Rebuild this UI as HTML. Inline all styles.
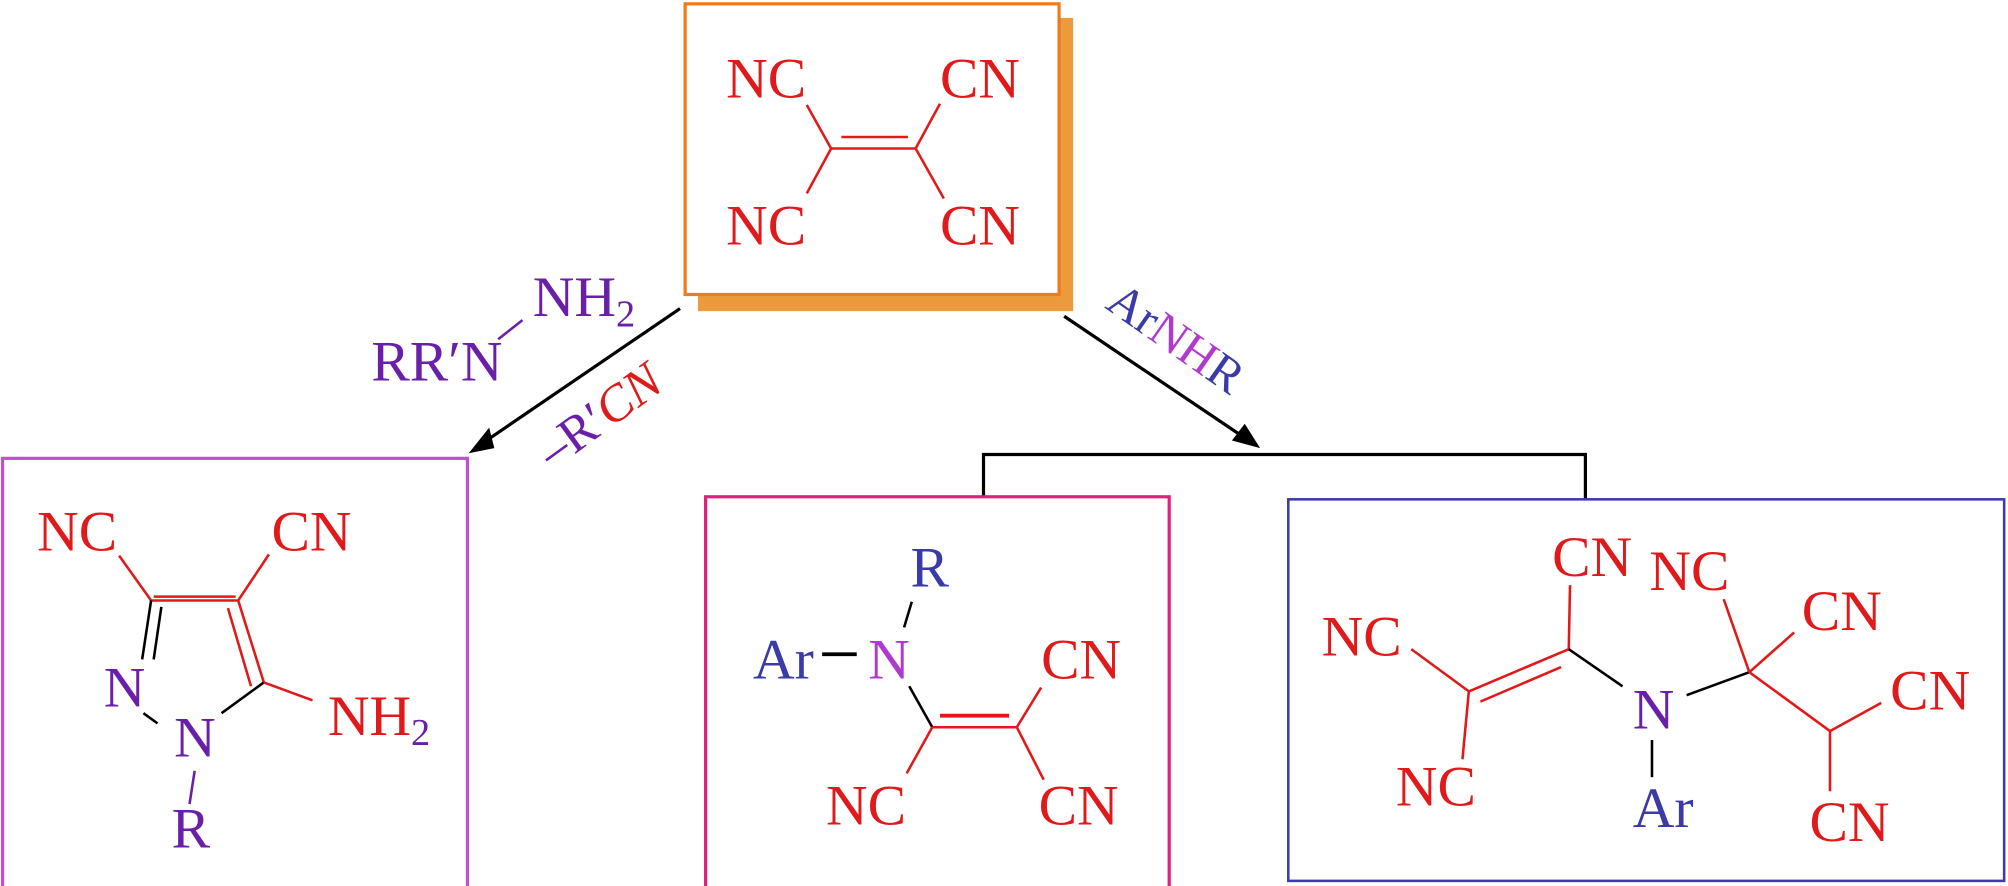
<!DOCTYPE html>
<html><head><meta charset="utf-8"><style>html,body{margin:0;padding:0;background:#fff}svg{display:block}</style></head>
<body>
<svg width="2008" height="886" viewBox="0 0 1568 692" preserveAspectRatio="none" xmlns="http://www.w3.org/2000/svg" font-family="'Liberation Serif', serif" font-size="45">
<rect width="1568" height="692" fill="#fff"/>
<!-- top box -->
<rect x="545" y="14" width="293" height="229" fill="#eb9a3c"/>
<rect x="535" y="3" width="292" height="227" fill="#fff" stroke="#f07a1a" stroke-width="2.5"/>
<g fill="#e01a1a">
<text x="567" y="76">NC</text><text x="734" y="76">CN</text>
<text x="567" y="191">NC</text><text x="734" y="191">CN</text>
</g>
<g stroke="#e01a1a" stroke-width="2" fill="none">
<line x1="649" y1="116" x2="715" y2="116"/><line x1="657" y1="107" x2="709" y2="107"/>
<line x1="649" y1="116" x2="630" y2="82"/><line x1="649" y1="116" x2="630" y2="151"/>
<line x1="715" y1="116" x2="734" y2="81"/><line x1="715" y1="116" x2="737" y2="155"/>
</g>
<!-- left reagent -->
<g fill="#6a1fa8">
<text x="416" y="247">NH<tspan font-size="30" dy="8">2</tspan></text>
<text x="290" y="297">RR′N</text>
</g>
<line x1="389" y1="265" x2="408" y2="250" stroke="#6a1fa8" stroke-width="2"/>
<!-- left arrow -->
<line x1="531" y1="241" x2="380" y2="344" stroke="#000" stroke-width="2.5"/>
<polygon points="366,354 382,334 386,350" fill="#000"/>
<text transform="translate(432,367) rotate(-36)" font-size="40"><tspan fill="#6a1fa8">–R′</tspan><tspan fill="#e01a1a" font-style="italic">CN</tspan></text>
<!-- right arrow -->
<line x1="831" y1="247" x2="972" y2="342" stroke="#000" stroke-width="2.5"/>
<polygon points="984,350 962,344 972,331" fill="#000"/>
<text transform="translate(862,240) rotate(35)" font-size="38"><tspan fill="#3a3aa8">Ar</tspan><tspan fill="#b03ad0">NH</tspan><tspan fill="#3a3aa8">R</tspan></text>
<!-- bracket -->
<polyline points="768,388 768,355 1238,355 1238,390" fill="none" stroke="#000" stroke-width="2.5"/>
<!-- boxes -->
<rect x="2" y="358" width="363" height="340" fill="none" stroke="#c050d0" stroke-width="2.5"/>
<rect x="551" y="388" width="362" height="310" fill="none" stroke="#e0207a" stroke-width="2.5"/>
<rect x="1006" y="390" width="559" height="298" fill="none" stroke="#3c3cb0" stroke-width="2"/>
<!-- pyrazole -->
<g fill="#e01a1a"><text x="29" y="430">NC</text><text x="212" y="430">CN</text>
<text x="256" y="574">NH<tspan font-size="30" dy="8" fill="#6a1fa8">2</tspan></text></g>
<g fill="#6a1fa8"><text x="81" y="552">N</text><text x="136" y="591">N</text><text x="134" y="662">R</text></g>
<g stroke-width="2" fill="none">
<line x1="93" y1="434" x2="118" y2="469" stroke="#e01a1a"/>
<line x1="210" y1="433" x2="186" y2="469" stroke="#e01a1a"/>
<line x1="118" y1="469" x2="186" y2="469" stroke="#e01a1a"/>
<line x1="120" y1="466" x2="184" y2="466" stroke="#e01a1a"/>
<line x1="118" y1="469" x2="111" y2="515" stroke="#000"/>
<line x1="157" y1="476" x2="102" y2="512" stroke="none"/>
<line x1="126" y1="474" x2="120" y2="515" stroke="#000"/>
<line x1="186" y1="469" x2="206" y2="533" stroke="#e01a1a"/>
<line x1="178" y1="475" x2="196" y2="536" stroke="#e01a1a"/>
<line x1="206" y1="533" x2="173" y2="557" stroke="#000"/>
<line x1="206" y1="533" x2="244" y2="547" stroke="#e01a1a"/>
<line x1="112" y1="557" x2="123" y2="565" stroke="#000"/>
<line x1="152" y1="602" x2="148" y2="628" stroke="#6a1fa8"/>
</g>
<!-- pink box molecule -->
<text x="711" y="458" fill="#3a3aa8">R</text>
<text x="588" y="530" fill="#3a3aa8">Ar</text>
<text x="678" y="530" fill="#b03ad0">N</text>
<g fill="#e01a1a"><text x="813" y="530">CN</text><text x="645" y="644">NC</text><text x="811" y="644">CN</text></g>
<g stroke-width="2" fill="none">
<line x1="712" y1="470" x2="706" y2="490" stroke="#000"/>
<line x1="642" y1="511" x2="669" y2="511" stroke="#000" stroke-width="3"/>
<line x1="710" y1="536" x2="728" y2="568" stroke="#000"/>
<line x1="728" y1="568" x2="794" y2="568" stroke="#e01a1a"/>
<line x1="734" y1="559" x2="788" y2="559" stroke="#e01a1a" stroke-width="3"/>
<line x1="728" y1="568" x2="708" y2="604" stroke="#e01a1a"/>
<line x1="794" y1="568" x2="813" y2="537" stroke="#e01a1a"/>
<line x1="794" y1="568" x2="815" y2="609" stroke="#e01a1a"/>
</g>
<!-- blue box molecule -->
<g fill="#e01a1a">
<text x="1212" y="450">CN</text><text x="1288" y="461">NC</text>
<text x="1032" y="512">NC</text><text x="1407" y="492">CN</text>
<text x="1476" y="554">CN</text><text x="1090" y="629">NC</text>
<text x="1413" y="657">CN</text>
</g>
<text x="1275" y="569" fill="#6a1fa8">N</text>
<text x="1275" y="646" fill="#3a3aa8">Ar</text>
<g stroke-width="2" fill="none">
<line x1="1102" y1="507" x2="1147" y2="540" stroke="#e01a1a"/>
<line x1="1147" y1="540" x2="1225" y2="507" stroke="#e01a1a"/>
<line x1="1156" y1="548" x2="1219" y2="521" stroke="#e01a1a"/>
<line x1="1147" y1="540" x2="1142" y2="593" stroke="#e01a1a"/>
<line x1="1225" y1="507" x2="1226" y2="457" stroke="#e01a1a"/>
<line x1="1225" y1="507" x2="1267" y2="536" stroke="#000"/>
<line x1="1317" y1="543" x2="1366" y2="525" stroke="#000"/>
<line x1="1366" y1="525" x2="1346" y2="468" stroke="#e01a1a"/>
<line x1="1366" y1="525" x2="1401" y2="494" stroke="#e01a1a"/>
<line x1="1366" y1="525" x2="1429" y2="571" stroke="#e01a1a"/>
<line x1="1429" y1="571" x2="1469" y2="549" stroke="#e01a1a"/>
<line x1="1429" y1="571" x2="1429" y2="618" stroke="#e01a1a"/>
<line x1="1290" y1="578" x2="1290" y2="607" stroke="#000"/>
</g>
</svg>
</body></html>
